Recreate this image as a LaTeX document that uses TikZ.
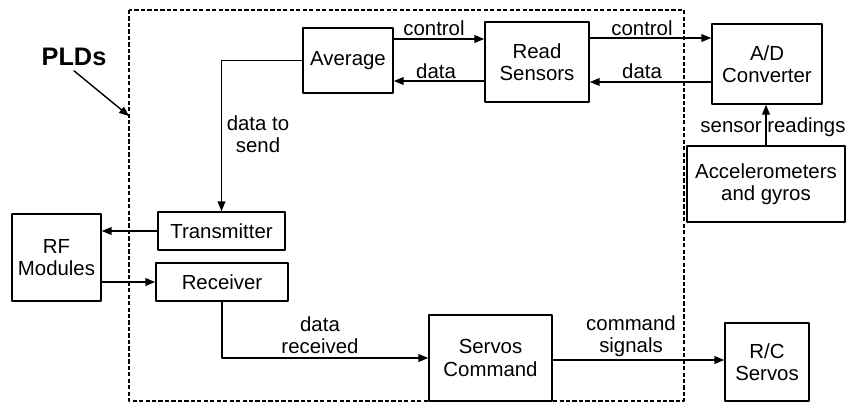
\documentclass[tikz,border=0pt]{standalone}
\usepackage{fontspec}
\setmainfont{Liberation Sans}
\usetikzlibrary{arrows.meta}

\begin{document}
\begin{tikzpicture}[x=0.025cm, y=-0.025cm, line cap=round, line join=round,
	every node/.style={font=\fontsize{14.5}{16}\selectfont},
	blk/.style={draw, line width=1.1pt, align=center, inner sep=0pt},
	lbl/.style={align=center, inner sep=0pt},
	flow/.style={line width=1pt, -{Triangle[length=7pt,width=5.5pt]}}]
	\useasboundingbox (0,0) rectangle (848,404);

	% the PLD boundary
	\coordinate (pldtl) at (129,10);
	\coordinate (pldbr) at (684,401);
	\draw [line width=1.1pt, dash pattern=on 3pt off 1.6pt, line cap=butt] (pldtl) rectangle (pldbr);
	\node [font=\fontsize{18}{20}\bfseries\selectfont] (pld) at (74,57) {PLDs};
	\draw [flow] (pld.south) -- (pldtl |- 0,116);

	% blocks
	\node [blk, minimum width=2.25cm, minimum height=1.625cm] (avg) at (348,60.5) {Average};
	\node [blk, minimum width=2.6cm, minimum height=2cm] (read) at (537,62) {Read\\Sensors};
	\node [blk, minimum width=2.75cm, minimum height=2cm] (adc) at (767,64) {A/D\\Converter};
	\node [blk, minimum width=3.95cm, minimum height=1.9cm] (acc) at (766,184) {Accelerometers\\and gyros};
	\node [blk, minimum width=3.175cm, minimum height=0.95cm] (tx) at (221.5,231) {Transmitter};
	\node [blk, minimum width=3.3cm, minimum height=0.95cm] (rx) at (222,282) {Receiver};
	\node [blk, minimum width=2.225cm, minimum height=2.175cm] (rf) at (56.5,257.5) {RF\\Modules};
	\node [blk, minimum width=3.075cm, minimum height=2.15cm] (servo) at (490.5,358) {Servos\\Command};
	\node [blk, minimum width=2.1cm, minimum height=1.95cm] (rc) at (767,362) {R/C\\Servos};

	% connections
	\draw [flow] (avg.east |- 0,39) -- (read.west |- 0,39);
	\draw [flow] (read.west |- 0,81) -- (avg.east |- 0,81);
	\draw [flow] (read.east |- 0,38) -- (adc.west |- 0,38);
	\draw [flow] (adc.west |- 0,82) -- (read.east |- 0,82);
	\draw [flow] (acc.north) -- (acc.north |- adc.south);
	\draw [flow] (avg.west) -| (tx.north);
	\draw [flow] (tx.west) -- (rf.east |- tx.west);
	\draw [flow] (rf.east |- rx.west) -- (rx.west);
	\draw [flow] (rx.south) |- (servo.west);
	\draw [flow] (servo.east |- 0,360) -- (rc.west |- 0,360);

	% connector labels
	\node [lbl] (ctrla) at (434,28) {control};
	\node [lbl] (dataa) at (436,71) {data};
	\node [lbl] (ctrlb) at (642,28) {control};
	\node [lbl] (datab) at (642,71) {data};
	\node [lbl] (sens) at (773,127) {sensor readings};
	\node [lbl] (tosend) at (258,134) {data to\\send};
	\node [lbl] (recvd) at (320,335) {data\\received};
	\node [lbl] (cmdsig) at (631,336) {command\\signals};
\end{tikzpicture}
\end{document}
